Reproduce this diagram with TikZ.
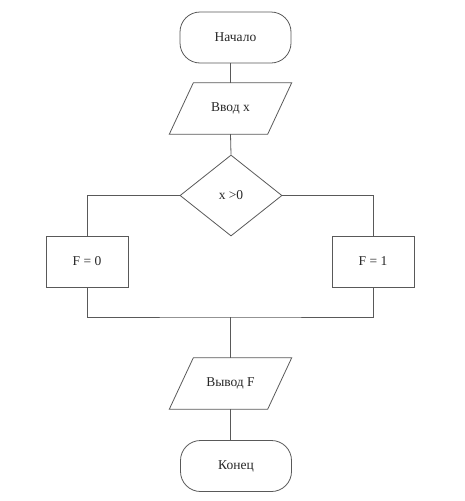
\documentclass[tikz,border=0pt]{standalone}
\usepackage{fontspec}
\setmainfont{Liberation Serif}
\usetikzlibrary{shapes.geometric}
\begin{document}
\begin{tikzpicture}[x=1pt,y=-1pt,
  every node/.style={font=\fontsize{13.5}{15}\selectfont, inner sep=0pt, text=black!85},
  line/.style={draw=black!65, line width=0.8pt},
  term/.style={line, rectangle, rounded corners=20pt, minimum width=111pt, minimum height=51pt},
  io/.style={rectangle, minimum width=98pt, minimum height=51pt},
  proc/.style={line, rectangle, minimum width=82pt, minimum height=51pt},
  dec/.style={line, diamond, minimum width=102pt, minimum height=81pt}]
\useasboundingbox (0,0) rectangle (464,501);
\node[term] (start) at (235.5,37.5) {Начало};
\node[io] (in) at (230.5,108.5) {Ввод x};
\node[dec] (cond) at (231,195.5) {x >0};
\node[proc] (f0) at (87,261.5) {F = 0};
\node[proc] (f1) at (373,261.5) {F = 1};
\coordinate (join) at (230.5,317);
\node[io] (out) at (230.5,383.5) {Вывод F};
\node[term] (stop) at (236,466) {Конец};
\foreach \n in {in,out}
  \draw[line] ([xshift=12pt]\n.north west) -- ([xshift=12pt]\n.north east)
    -- ([xshift=-12pt]\n.south east) -- ([xshift=-12pt]\n.south west) -- cycle;
\draw[line] (start.south -| in.north) -- (in.north);
\draw[line] (in.south) -- (cond.north);
\draw[line] (cond.west) -| (f0.north);
\draw[line] (cond.east) -| (f1.north);
\draw[line] (f0.south) |- (join) -| (f1.south);
\draw[line] (join) -- (out.north);
\draw[line] (out.south) -- (stop.north -| out.south);
\end{tikzpicture}
\end{document}
